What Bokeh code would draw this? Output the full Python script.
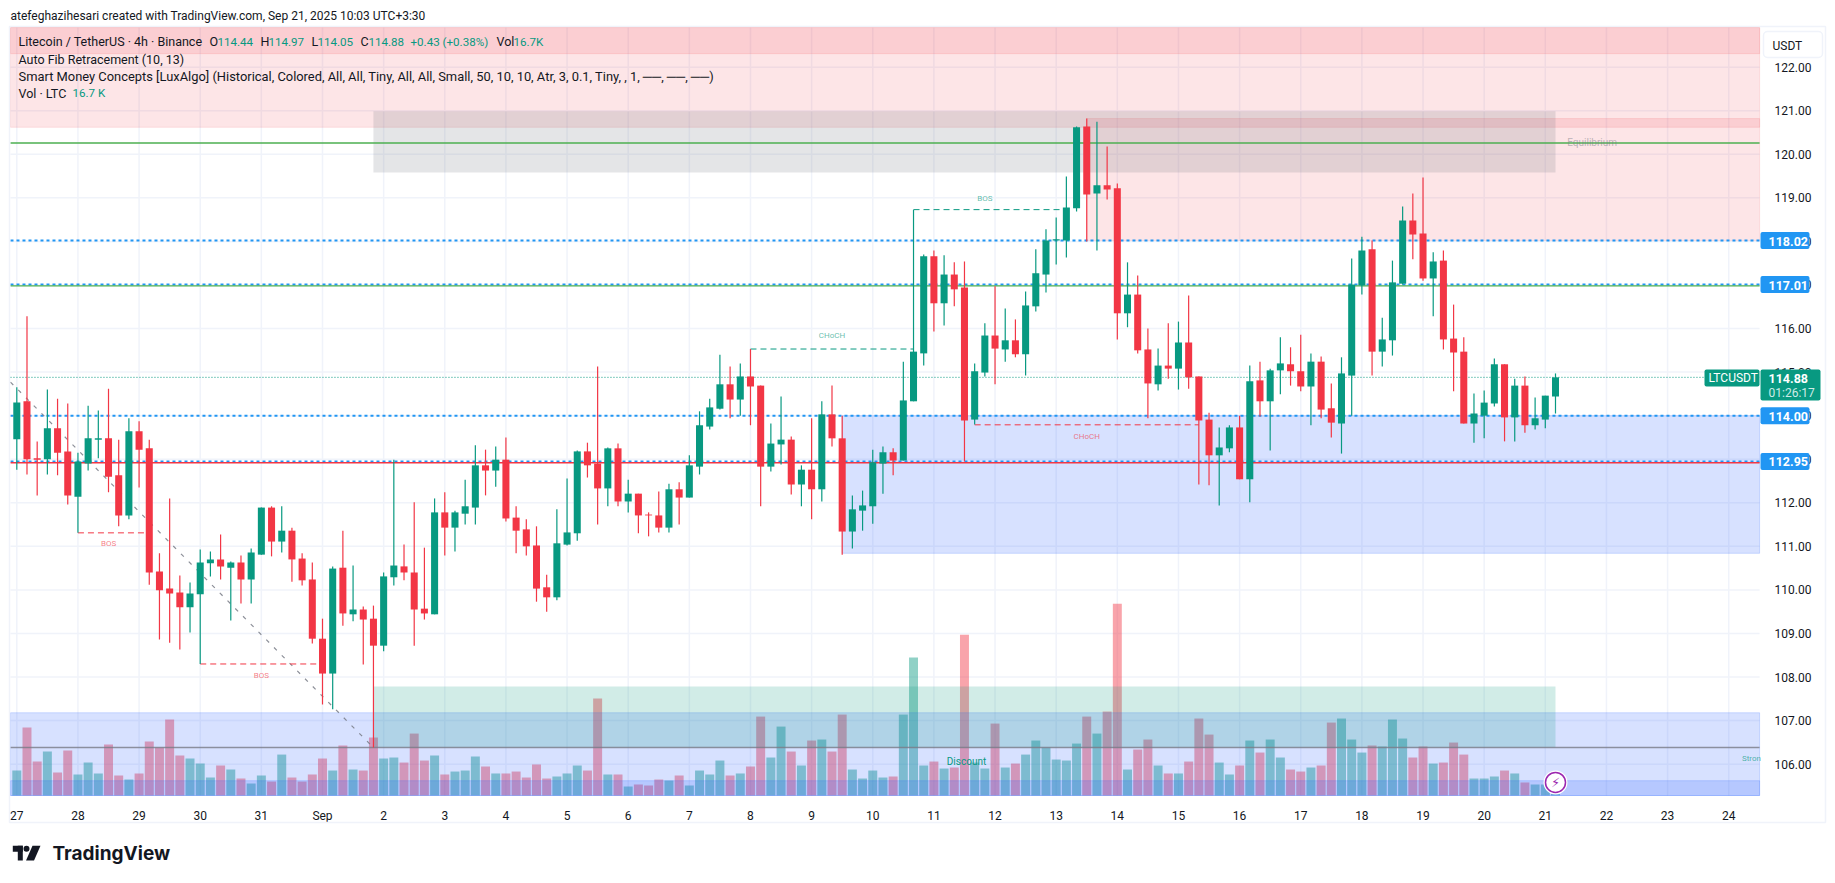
#!/usr/bin/env python3
import numpy as np
from bokeh.core.properties import value
from bokeh.embed import file_html
from bokeh.models import BoxAnnotation, FixedTicker, Label, PolyAnnotation, Range1d
from bokeh.plotting import figure
from bokeh.resources import INLINE

bar_open = [113.46, 114.33, 113.02, 113.00, 113.71, 113.18, 112.14, 112.90, 113.45, 113.48,
            112.63, 111.71, 113.64, 113.25, 110.42, 110.03, 109.94, 109.60, 109.90, 110.61,
            110.70, 110.51, 110.63, 110.24, 110.81, 111.89, 111.11, 111.36, 110.72, 110.24,
            108.88, 108.08, 110.51, 109.44, 109.55, 109.34, 108.72, 110.29, 110.54, 110.40,
            109.57, 109.44, 111.78, 111.43, 111.75, 111.89, 112.86, 112.74, 112.99, 111.66,
            111.39, 111.02, 110.06, 109.83, 111.04, 111.30, 113.18, 112.90, 112.33, 113.25,
            112.03, 112.21, 111.73, 111.71, 111.43, 112.31, 112.12, 112.83, 113.75, 114.16,
            114.72, 114.37, 114.90, 114.69, 112.83, 113.34, 113.45, 112.42, 112.76, 112.31,
            114.03, 113.48, 111.34, 111.82, 111.92, 112.90, 113.16, 112.97, 114.33, 115.43,
            117.66, 116.58, 117.24, 116.94, 113.91, 114.99, 115.84, 115.52, 115.73, 115.41,
            116.51, 117.24, 118.02, 118.02, 118.76, 120.64, 119.10, 119.29, 119.22, 116.35,
            116.78, 115.52, 114.72, 115.15, 115.08, 115.68, 114.90, 113.91, 113.09, 113.25,
            113.73, 112.54, 114.81, 114.33, 115.04, 115.18, 115.02, 114.67, 115.24, 114.17,
            113.82, 114.92, 116.99, 117.82, 115.47, 115.73, 117.03, 118.48, 118.18, 117.15,
            117.56, 115.77, 115.47, 113.82, 114.00, 114.28, 115.18, 113.96, 114.69, 113.78,
            113.91, 114.44]
bar_high = [114.65, 116.28, 113.41, 114.60, 114.39, 114.28, 113.15, 114.23, 114.12, 114.62,
            113.45, 113.94, 113.87, 113.45, 110.84, 112.10, 110.33, 110.17, 110.93, 110.88,
            111.27, 110.65, 110.79, 110.95, 111.89, 111.92, 111.92, 111.43, 110.84, 110.63,
            109.34, 110.54, 111.36, 110.56, 109.62, 109.64, 110.40, 112.99, 111.04, 112.01,
            110.97, 112.10, 112.24, 111.82, 112.53, 113.32, 113.22, 113.29, 113.50, 111.92,
            111.62, 111.46, 110.35, 111.85, 112.56, 113.20, 113.38, 115.13, 113.27, 113.36,
            112.53, 112.21, 111.78, 112.26, 112.44, 112.47, 113.09, 114.10, 114.39, 115.40,
            115.13, 115.20, 115.53, 114.69, 113.82, 114.44, 113.52, 112.86, 113.94, 114.33,
            114.69, 114.00, 112.17, 112.28, 113.22, 113.29, 113.25, 115.24, 118.73, 117.70,
            117.79, 117.68, 117.52, 117.54, 115.20, 116.12, 116.97, 116.46, 116.21, 116.85,
            117.82, 118.28, 118.55, 119.49, 120.64, 120.82, 120.75, 120.18, 119.33, 117.52,
            117.22, 116.00, 115.54, 116.12, 116.16, 116.76, 114.90, 114.07, 113.73, 113.78,
            114.00, 115.15, 115.24, 115.08, 115.80, 115.57, 115.86, 115.43, 115.36, 114.74,
            115.34, 117.61, 118.11, 118.02, 116.25, 117.56, 118.80, 119.10, 119.47, 117.75,
            117.79, 116.55, 115.80, 114.51, 114.58, 115.31, 115.18, 114.85, 114.90, 114.42,
            114.46, 114.97]
bar_low = [112.76, 112.65, 112.17, 112.65, 112.63, 111.96, 111.31, 112.74, 113.02, 112.24,
           111.46, 111.62, 112.35, 110.12, 108.86, 108.79, 108.63, 109.02, 108.30, 110.31,
           110.24, 109.30, 109.69, 109.69, 110.81, 110.77, 110.86, 110.19, 110.10, 108.77,
           107.37, 107.26, 109.18, 109.28, 108.29, 106.38, 108.59, 110.10, 110.22, 108.72,
           109.32, 109.44, 110.79, 110.88, 111.50, 111.50, 112.17, 112.37, 111.57, 110.84,
           110.79, 109.73, 109.50, 109.76, 111.02, 111.13, 112.58, 111.50, 111.92, 111.92,
           111.78, 111.30, 111.23, 111.32, 111.32, 111.50, 112.12, 112.65, 113.68, 114.14,
           113.94, 114.00, 113.78, 111.92, 112.72, 112.88, 112.19, 111.92, 111.62, 112.03,
           113.29, 110.81, 110.95, 111.36, 111.52, 112.21, 112.63, 112.97, 114.33, 115.15,
           115.93, 116.07, 116.51, 112.95, 113.80, 114.90, 114.72, 115.24, 115.34, 114.92,
           116.39, 116.83, 117.47, 117.63, 118.69, 118.00, 117.79, 118.96, 115.75, 116.03,
           115.43, 113.94, 114.58, 114.85, 114.60, 114.62, 112.42, 112.40, 111.94, 113.16,
           112.54, 112.01, 113.98, 113.20, 114.49, 114.69, 114.56, 113.78, 113.94, 113.50,
           113.13, 114.00, 116.78, 114.92, 115.13, 115.38, 117.01, 117.59, 117.10, 116.28,
           115.52, 114.56, 113.82, 113.38, 113.48, 114.21, 113.41, 113.41, 113.61, 113.68,
           113.71, 114.05]
bar_close = [114.30, 113.00, 112.99, 113.71, 113.15, 112.17, 112.95, 113.48, 113.48, 112.60,
             111.71, 113.64, 113.22, 110.40, 109.99, 109.92, 109.60, 109.92, 110.63, 110.70,
             110.54, 110.63, 110.24, 110.86, 111.89, 111.11, 111.36, 110.70, 110.22, 108.88,
             108.08, 110.49, 109.46, 109.55, 109.32, 108.72, 110.31, 110.56, 110.40, 109.55,
             109.46, 111.78, 111.43, 111.78, 111.92, 112.86, 112.74, 112.99, 111.64, 111.36,
             111.00, 110.03, 109.83, 111.07, 111.32, 113.18, 112.86, 112.33, 113.25, 112.03,
             112.21, 111.71, 111.71, 111.43, 112.31, 112.12, 112.86, 113.78, 114.19, 114.72,
             114.37, 114.90, 114.67, 112.83, 113.36, 113.45, 112.42, 112.76, 112.31, 114.03,
             113.48, 111.34, 111.85, 111.94, 112.93, 113.16, 112.97, 114.35, 115.47, 117.66,
             116.58, 117.24, 116.90, 113.89, 115.02, 115.84, 115.54, 115.73, 115.41, 116.53,
             117.27, 118.02, 118.05, 118.78, 120.62, 119.08, 119.29, 119.19, 116.35, 116.78,
             115.50, 114.74, 115.15, 115.08, 115.68, 114.88, 113.89, 113.09, 113.27, 113.73,
             112.54, 114.79, 114.33, 115.04, 115.20, 115.02, 114.67, 115.24, 114.14, 113.84,
             114.97, 117.01, 117.79, 115.47, 115.75, 117.06, 118.48, 118.16, 117.15, 117.54,
             115.75, 115.45, 113.82, 114.05, 114.30, 115.18, 113.96, 114.69, 113.78, 113.94,
             114.46, 114.88]
# volume in thousands of LTC
bar_volume = [34.7, 94.5, 47.2, 61.1, 31.9, 62.5, 29.2, 45.8, 30.6, 70.8,
              27.8, 22.2, 30.6, 75.0, 66.7, 105.6, 55.6, 51.4, 44.4, 25.0,
              41.7, 36.1, 23.6, 16.7, 27.8, 19.4, 56.9, 25.0, 19.4, 29.2,
              51.4, 34.7, 69.5, 36.1, 34.7, 80.6, 51.4, 52.8, 45.8, 86.1,
              48.6, 55.6, 29.2, 33.3, 34.7, 54.2, 40.3, 30.6, 30.6, 33.3,
              25.0, 43.1, 23.6, 26.4, 30.6, 41.7, 34.7, 134.7, 29.2, 29.2,
              12.5, 15.3, 13.9, 22.2, 20.8, 27.8, 13.9, 34.7, 29.2, 48.6,
              27.8, 30.6, 40.3, 109.7, 52.8, 95.8, 61.1, 41.7, 76.4, 77.8,
              61.1, 112.5, 36.1, 23.6, 34.7, 25.0, 26.4, 112.5, 191.7, 41.7,
              47.2, 37.5, 38.9, 223.6, 45.8, 37.5, 100.0, 38.9, 44.4, 56.9,
              76.4, 66.7, 50.0, 48.6, 72.2, 109.7, 86.1, 116.7, 266.7, 36.1,
              63.9, 77.8, 41.7, 30.6, 30.6, 47.2, 107.0, 84.7, 45.8, 29.2,
              41.7, 76.4, 59.7, 77.8, 52.8, 36.1, 33.3, 38.9, 41.7, 101.4,
              107.0, 77.8, 59.7, 69.5, 68.1, 105.6, 79.2, 52.8, 68.1, 44.4,
              45.8, 73.6, 56.9, 23.6, 23.6, 26.4, 34.7, 30.6, 18.1, 15.3,
              15.3, 16.7]

day_ticks = list(range(0, 169, 6))
day_labels = ["27", "28", "29", "30", "31", "Sep", "2", "3", "4", "5", "6", "7", "8", "9", "10",
              "11", "12", "13", "14", "15", "16", "17", "18", "19", "20", "21", "22", "23", "24"]
price_ticks = list(range(106, 123))

# visible chart area in bars and price
chart_left, chart_right = -0.62, 171.03
chart_bottom, chart_top = 105.28, 122.91

# zones: left bar, right bar, bottom price, top price
red_left = [chart_left, chart_left, 105]
red_right = [chart_right, chart_right, chart_right]
red_bottom = [122.31, 120.62, 118.02]
red_top = [chart_top, chart_top, 120.82]
blue_left = [81, chart_left, chart_left]
blue_right = [chart_right, chart_right, chart_right]
blue_bottom = [110.84, chart_bottom, chart_bottom]
blue_top = [114.00, 107.18, 105.62]
gray_zone = [35, 151, 119.58, 120.99]
green_zone = [35, 151, 106.38, 107.78]

blue_levels = [118.02, 117.01, 114.00, 112.95]
green_levels = [120.26, 116.98]
red_levels = [112.92]
gray_level = 106.38
last_price = 114.88
trend_x = [chart_left, 35]
trend_y = [114.77, 106.38]

# structure breaks: start bar, end bar, price
up_breaks = [(72, 88, 115.53), (88, 103, 118.73)]
down_breaks = [(6, 13, 111.31), (18, 30, 108.30), (94, 116, 113.79)]
up_labels = [(80, 115.83, "CHoCH"), (95, 118.99, "BOS")]
down_labels = [(9, 111.06, "BOS"), (24, 108.03, "BOS"), (105, 113.53, "CHoCH")]

UP = "#089981"
DOWN = "#f23645"
BLUE = "#2962ff"
BADGE = "#2196f3"
INK = "#131722"
FONT = "Roboto"
WIDTH, HEIGHT = 1830, 875

x = np.arange(len(bar_open))
opens, highs, lows, closes = map(np.array, (bar_open, bar_high, bar_low, bar_close))
colors = [UP if c >= o else DOWN for o, c in zip(bar_open, bar_close)]

# the frame fills the page, annotations get clipped to it otherwise
p = figure(width=WIDTH, height=HEIGHT, output_backend="svg", toolbar_location=None,
           x_range=(-1.5996, 177.988), y_range=(103.444, 123.531), y_axis_location="right",
           min_border=0, background_fill_color="white", border_fill_color="white", outline_line_color=None)

p.xaxis.fixed_location = chart_bottom
p.yaxis.fixed_location = chart_right
p.xaxis.ticker = FixedTicker(ticks=day_ticks)
p.xaxis.major_label_overrides = dict(zip(day_ticks, day_labels))
p.yaxis.ticker = FixedTicker(ticks=price_ticks)
p.yaxis.major_label_overrides = {v: "%.2f" % v for v in price_ticks}
for ax in (p.xaxis[0], p.yaxis[0]):
    ax.axis_line_color = None
    ax.major_tick_line_color = None
    ax.minor_tick_line_color = None
    ax.major_label_text_color = INK
    ax.major_label_text_font = FONT
    ax.major_label_text_font_size = "12px"
p.xaxis.major_label_standoff = 7
p.yaxis.major_label_standoff = 9
p.grid.visible = False


def level_line(levels, **style):
    p.segment([chart_left] * len(levels), levels, [chart_right] * len(levels), levels, **style)


p.segment(day_ticks, [chart_bottom] * len(day_ticks), day_ticks, [chart_top] * len(day_ticks),
          line_color="#f0f3fa", line_width=1.5)
level_line(price_ticks, line_color="#f0f3fa", line_width=1.5)

# volume sits under everything else
p.extra_y_ranges = {"vol": Range1d(-111.2, 1105.05)}
p.vbar(x=x, top=bar_volume, bottom=0, width=0.88, fill_color=colors, fill_alpha=0.45, line_color=None, y_range_name="vol")

p.quad(left=red_left, right=red_right, bottom=red_bottom, top=red_top,
       fill_color=DOWN, fill_alpha=0.13, line_color=DOWN, line_alpha=0.12)
p.quad(left=blue_left, right=blue_right, bottom=blue_bottom, top=blue_top,
       fill_color=BLUE, fill_alpha=0.19, line_color=BLUE, line_alpha=0.2)
p.quad(left=[gray_zone[0]], right=[gray_zone[1]], bottom=[gray_zone[2]], top=[gray_zone[3]],
       fill_color="#787b86", fill_alpha=0.2, line_color=None)
p.quad(left=[green_zone[0]], right=[green_zone[1]], bottom=[green_zone[2]], top=[green_zone[3]],
       fill_color=UP, fill_alpha=0.19, line_color=None)

level_line(blue_levels, line_color=BADGE, line_width=2, line_dash=value([3, 3]))
level_line(green_levels, line_color="#4caf50", line_width=1.4)
level_line(red_levels, line_color="#f23645", line_width=1.4)
level_line([gray_level], line_color="#787b86", line_width=1.5, line_alpha=0.8)
level_line([last_price], line_color=UP, line_width=1, line_dash=value([1, 2]))
p.line(trend_x, trend_y, line_color="#787b86", line_width=1.2, line_alpha=0.85, line_dash=[4, 7])

for breaks, color in ((up_breaks, UP), (down_breaks, DOWN)):
    p.segment([b[0] for b in breaks], [b[2] for b in breaks], [b[1] for b in breaks], [b[2] for b in breaks],
              line_color=color, line_width=1, line_dash=value([6, 4]))
for labels, color in ((up_labels, UP), (down_labels, DOWN)):
    p.text([l[0] for l in labels], [l[1] for l in labels], text=[l[2] for l in labels], text_color=color,
           text_alpha=0.65, text_font=value(FONT), text_font_size="8px", text_align="center", text_baseline="middle")

p.text([93.2], [106.05], text=["Discount"], text_color=UP, text_font=value(FONT), text_font_size="10px",
       text_align="center", text_baseline="middle")
p.text([154.6], [120.28], text=["Equilibrium"], text_color="#787b86", text_alpha=0.5, text_font=value(FONT),
       text_font_size="10px", text_align="center", text_baseline="middle")
p.text([169.3], [106.13], text=["Stron"], text_color=UP, text_alpha=0.7, text_font=value(FONT),
       text_font_size="8px", text_align="left", text_baseline="middle")

# candles
p.segment(x, lows, x, highs, line_color=colors, line_width=1.2)
p.vbar(x=x, top=np.maximum(opens, closes), bottom=np.minimum(opens, closes), width=0.69, fill_color=colors, line_color=None)

# marker on the last bar
p.scatter([151], [105.58], size=24, fill_color="white", line_color=None)
p.scatter([151], [105.58], size=20, fill_color="white", line_color="#9c27b0", line_width=1.5)
p.text([151], [105.58], text=["\u26a1\ufe0e"], text_color="#9c27b0", text_font=value("DejaVu Sans"), text_font_size="13px",
       text_align="center", text_baseline="middle")


# page pixel positions for the furniture around the chart
def sy(py):
    return HEIGHT - py


def page_text(px, py, text, color=INK, size=12.5, style="normal", font=FONT, align="left"):
    p.add_layout(Label(x=px, y=sy(py), x_units="screen", y_units="screen", text=text, text_color=color,
                       text_font=font, text_font_size="%spx" % size, text_font_style=style,
                       text_align=align, text_baseline="middle"))


def page_box(left, right, top, bottom, fill, line=None, radius=0):
    p.add_layout(BoxAnnotation(left=left, right=right, top=sy(top), bottom=sy(bottom),
                               left_units="screen", right_units="screen", top_units="screen", bottom_units="screen",
                               fill_color=fill, fill_alpha=1 if fill else 0, line_color=line, line_width=1.5,
                               line_alpha=1 if line else 0, border_radius=radius))


page_box(9, 1825, 26, 822, None, "#f0f3fa")
page_text(10, 15, "atefeghazihesari created with TradingView.com, Sep 21, 2025 10:03 UTC+3:30", INK, 12)

page_text(18, 41, "Litecoin / TetherUS \u00b7 4h \u00b7 Binance")
for px, label, price in ((209, "O", "114.44"), (260, "H", "114.97"), (311, "L", "114.05"), (360, "C", "114.88")):
    page_text(px, 41, label)
    page_text(px + (8 if label != "L" else 6), 41, price, UP, 11.6)
page_text(410, 41, "+0.43 (+0.38%)", UP, 11.6)
page_text(496, 41, "Vol")
page_text(513, 41, "16.7K", UP, 11.6)
page_text(18, 58.5, "Auto Fib Retracement (10, 13)")
page_text(18, 75.5, "Smart Money Concepts [LuxAlgo] (Historical, Colored, All, All, Tiny, All, All, Small, 50, 10, 10, "
                    "Atr, 3, 0.1, Tiny, , 1, \u2500\u2500, \u2500\u2500, \u2500\u2500)", INK, 12.9)
page_text(18, 92.5, "Vol \u00b7 LTC")
page_text(72, 92.5, "16.7 K", UP, 11.6)

# price axis badges
page_box(1763, 1822, 31, 57, "white", "#f0f3fa", 4)
page_text(1772, 45, "USDT", INK, 12)
for level, label in zip(blue_levels, ("118.02", "117.01", "114.00", "112.95")):
    py = 66.7 + (122 - level) * 43.56
    page_box(1760, 1809, py - 8.5, py + 8.5, BADGE, None, 2)
    page_text(1768, py + 0.5, label, "white", 12.5, "bold")
page_box(1704, 1759, 369, 386, UP, None, 2)
page_text(1708, 377.5, "LTCUSDT", "white", 12)
page_box(1760, 1820, 369, 400, UP, None, 2)
page_text(1768, 377.5, "114.88", "white", 12.5, "bold")
page_text(1768, 392, "01:26:17", "#cdebe6", 12)

# TradingView mark and wordmark
page_box(12.3, 22.3, 845.3, 851.3, INK)
page_box(17.3, 22.3, 845.3, 860, INK)
p.add_layout(PolyAnnotation(xs=[32, 40, 33.5, 25.5], ys=[sy(845.3), sy(845.3), sy(860), sy(860)],
                            xs_units="screen", ys_units="screen", fill_color=INK, fill_alpha=1, line_color=None))
page_box(23, 29, 845.3, 851.3, INK, None, 3)
page_text(52, 853, "TradingView", INK, 19, "bold", "Inter")

open("out.html", "w").write(file_html(p, INLINE))
